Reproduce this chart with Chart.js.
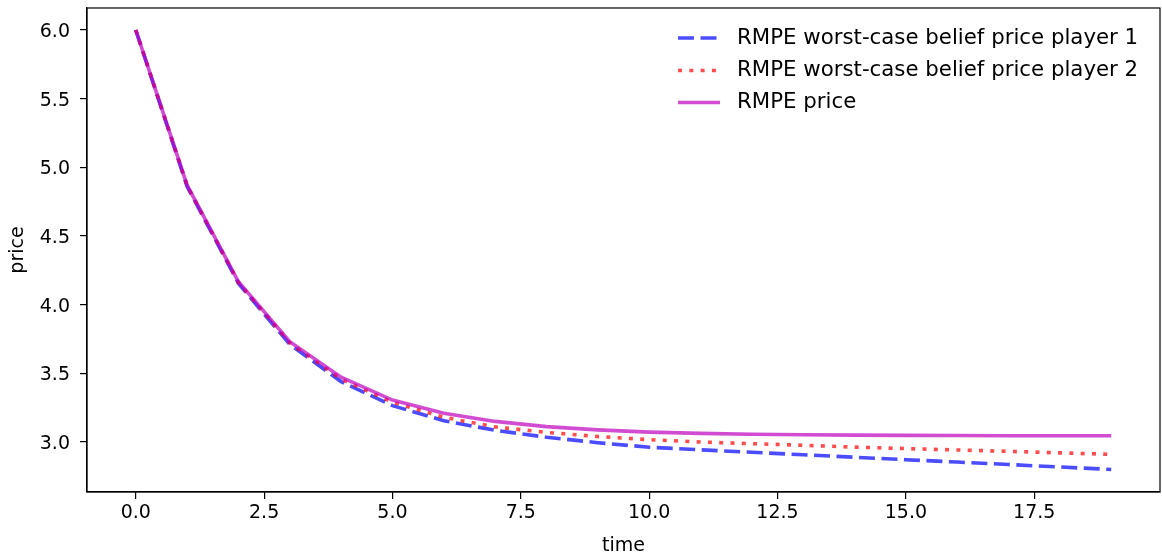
<!DOCTYPE html>
<html>
<head>
<meta charset="utf-8">
<script src="https://cdn.jsdelivr.net/npm/chart.js@4"></script>
<style>
html,body{margin:0;padding:0;background:#fff;}
#wrap{width:1162px;height:558px;}
</style>
</head>
<body>
<div id="wrap"><canvas id="c" width="1162" height="558"></canvas></div>
<script>
const times = [0,1,2,3,4,5,6,7,8,9,10,11,12,13,14,15,16,17,18,19];
const beliefP1 = [6.0,4.86,4.155,3.71,3.44,3.265,3.155,3.085,3.035,2.995,2.962,2.943,2.925,2.907,2.889,2.871,2.854,2.836,2.818,2.80];
const beliefP2 = [6.0,4.868,4.162,3.722,3.458,3.29,3.18,3.11,3.07,3.04,3.017,3.0,2.988,2.976,2.963,2.952,2.942,2.932,2.921,2.91];
const rmpePrice = [6.0,4.87,4.167,3.73,3.472,3.305,3.21,3.15,3.112,3.088,3.072,3.063,3.057,3.053,3.05,3.048,3.047,3.046,3.046,3.046];
const seriesNames = ["RMPE worst-case belief price player 1","RMPE worst-case belief price player 2","RMPE price"];
const xTicks = [0,2.5,5,7.5,10,12.5,15,17.5];
const yTicks = [3.0,3.5,4.0,4.5,5.0,5.5,6.0];
const xLabel = "time";
const yLabel = "price";

const FONT = "'DejaVu Sans', sans-serif";
const FS = 19;
const LEG_FS = 21.3;
const pts = arr => arr.map((v,i)=>({x:times[i], y:v}));

const styles = [
  {color:'rgba(0,0,255,0.7)', dash:[16,6.5]},
  {color:'rgba(255,0,0,0.7)', dash:[4,7.3]},
  {color:'rgba(191,0,191,0.7)', dash:[]}
];
const LW = 3.6;

const decor = {
  id:'decor',
  afterDraw(chart){
    const {ctx, chartArea:a, scales} = chart;
    ctx.save();
    ctx.lineWidth = 1.2;
    ctx.strokeStyle = '#000';
    ctx.strokeRect(a.left, a.top, a.right - a.left, a.bottom - a.top);
    ctx.fillStyle = '#000';
    ctx.font = FS + "px " + FONT;
    ctx.textBaseline = 'alphabetic';
    ctx.textAlign = 'center';
    xTicks.forEach(v=>{
      ctx.fillText(v.toFixed(1), scales.x.getPixelForValue(v), a.bottom + 26);
    });
    ctx.textAlign = 'right';
    yTicks.forEach(v=>{
      ctx.fillText(v.toFixed(1), a.left - 17, scales.y.getPixelForValue(v) + 7);
    });
    const rows = [38, 70.5, 102.5];
    ctx.font = LEG_FS + "px " + FONT;
    ctx.textBaseline = 'middle';
    ctx.textAlign = 'left';
    seriesNames.forEach((n,i)=>{
      const s = styles[i];
      ctx.beginPath();
      ctx.setLineDash(s.dash);
      ctx.lineWidth = LW;
      ctx.strokeStyle = s.color;
      ctx.lineCap = 'butt';
      ctx.moveTo(678, rows[i]);
      ctx.lineTo(720, rows[i]);
      ctx.stroke();
      ctx.setLineDash([]);
      ctx.fillStyle = '#000';
      ctx.fillText(n, 737, rows[i]);
    });
    ctx.restore();
  }
};

const mkDs = (label, arr, i) => ({
  label, data: pts(arr),
  order: 2 - i,
  borderColor: styles[i].color,
  borderDash: styles[i].dash,
  borderWidth: LW,
  pointRadius: 0,
  fill: false,
  tension: 0,
  borderCapStyle: 'butt'
});

new Chart(document.getElementById('c'), {
  type:'line',
  data:{
    datasets:[
      mkDs(seriesNames[0], beliefP1, 0),
      mkDs(seriesNames[1], beliefP2, 1),
      mkDs(seriesNames[2], rmpePrice, 2)
    ]
  },
  options:{
    responsive:false,
    animation:false,
    layout:{padding:{left:0, top:8, right:2, bottom:0}},
    plugins:{legend:{display:false}, tooltip:{enabled:false}},
    scales:{
      x:{
        type:'linear', min:-0.95, max:19.95,
        afterBuildTicks(s){ s.ticks = xTicks.map(v=>({value:v})); },
        afterFit(s){ s.height = 66; },
        ticks:{display:false},
        grid:{drawOnChartArea:false, drawTicks:true, tickLength:7, color:'#000', lineWidth:1.2},
        border:{display:true, color:'#000', width:1.2},
        title:{display:true, text:xLabel, font:{family:FONT, size:FS}, color:'#000', padding:{top:0,bottom:1}}
      },
      y:{
        type:'linear', min:2.636, max:6.16,
        afterBuildTicks(s){ s.ticks = yTicks.map(v=>({value:v})); },
        afterFit(s){ s.width = 87; },
        ticks:{display:false},
        grid:{drawOnChartArea:false, drawTicks:true, tickLength:7, color:'#000', lineWidth:1.2},
        border:{display:true, color:'#000', width:1.2},
        title:{display:true, text:yLabel, font:{family:FONT, size:FS}, color:'#000', padding:{top:7,bottom:0}}
      }
    }
  },
  plugins:[decor]
});
</script>
</body>
</html>
